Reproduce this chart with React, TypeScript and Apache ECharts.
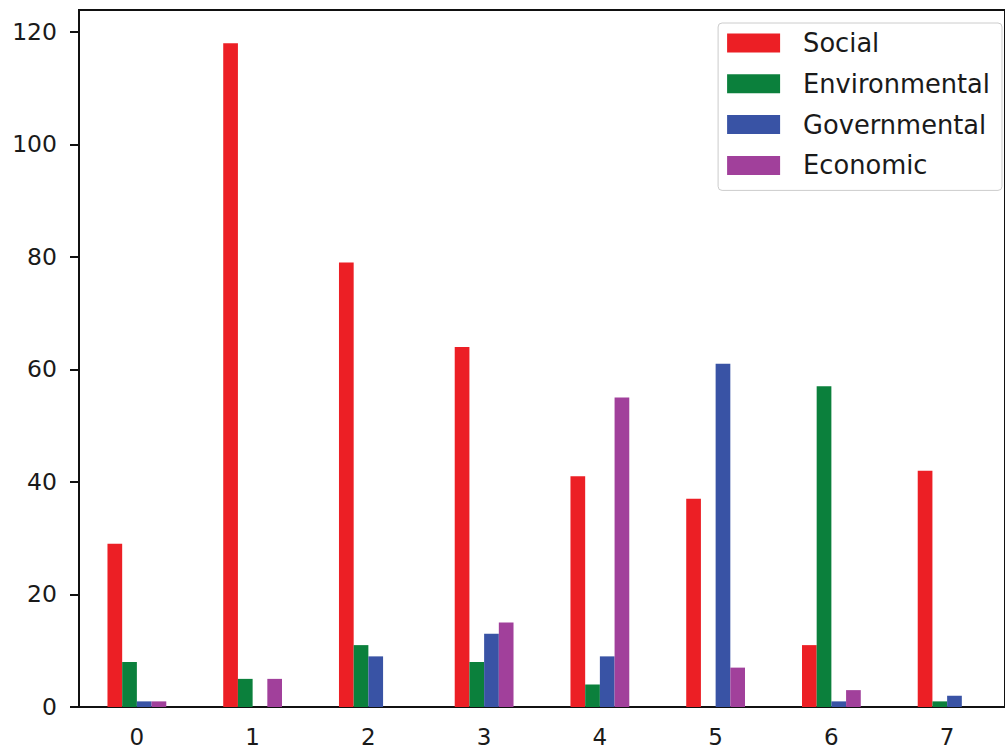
import React, { useEffect, useRef } from "react";
import * as echarts from "echarts";

const categories = ["0", "1", "2", "3", "4", "5", "6", "7"];
const social = [29, 118, 79, 64, 41, 37, 11, 42];
const environmental = [8, 5, 11, 8, 4, 0, 57, 1];
const governmental = [1, 0, 9, 13, 9, 61, 1, 2];
const economic = [1, 5, 0, 15, 55, 7, 3, 0];
const yTicks = [0, 20, 40, 60, 80, 100, 120];
const seriesNames = ["Social", "Environmental", "Governmental", "Economic"];
const colors = ["#EC1F25", "#0B803C", "#3953A5", "#A1409B"];

export default function App() {
  const ref = useRef<HTMLDivElement>(null);
  useEffect(() => {
    document.body.style.margin = "0";
    const chart = echarts.init(ref.current!, null, { renderer: "svg" });
    const font = "DejaVu Sans";
    const values = [social, environmental, governmental, economic];
    chart.setOption({
      animation: false,
      backgroundColor: "#ffffff",
      grid: {
        left: 79,
        top: 10,
        bottom: 42,
        right: -13,
        show: true,
        borderColor: "#111",
        borderWidth: 2,
      },
      legend: {
        data: seriesNames,
        orient: "vertical",
        right: 3,
        top: 23,
        icon: "rect",
        itemWidth: 53,
        itemHeight: 19,
        itemGap: 14.8,
        padding: [7, 12, 12, 9],
        borderColor: "#cccccc",
        borderWidth: 1,
        borderRadius: 4,
        textStyle: {
          fontFamily: font,
          fontSize: 25.7,
          color: "#1a1a1a",
          padding: [0, 0, 0, 18],
        },
      },
      xAxis: {
        type: "category",
        data: categories,
        boundaryGap: true,
        axisLine: { lineStyle: { color: "#111", width: 2 } },
        axisTick: { alignWithLabel: true, length: 9, lineStyle: { color: "#111", width: 2 } },
        axisLabel: { fontFamily: font, fontSize: 23, lineHeight: 21, color: "#1a1a1a", margin: 19 },
        splitLine: { show: false },
      },
      yAxis: {
        type: "value",
        min: 0,
        max: 123.9,
        axisLine: { show: true, lineStyle: { color: "#111", width: 2 } },
        axisTick: { show: true, length: 9, customValues: yTicks, lineStyle: { color: "#111", width: 2 } },
        axisLabel: { fontFamily: font, fontSize: 23.5, color: "#1a1a1a", margin: 22, customValues: yTicks },
        splitLine: { show: false },
      },
      series: seriesNames.map((name, i) => ({
        name,
        type: "bar",
        data: values[i],
        barWidth: 14.7,
        barGap: "0%",
        itemStyle: { color: colors[i] },
      })),
    });
    return () => chart.dispose();
  }, []);
  return <div ref={ref} style={{ width: 1005, height: 749 }} />;
}
